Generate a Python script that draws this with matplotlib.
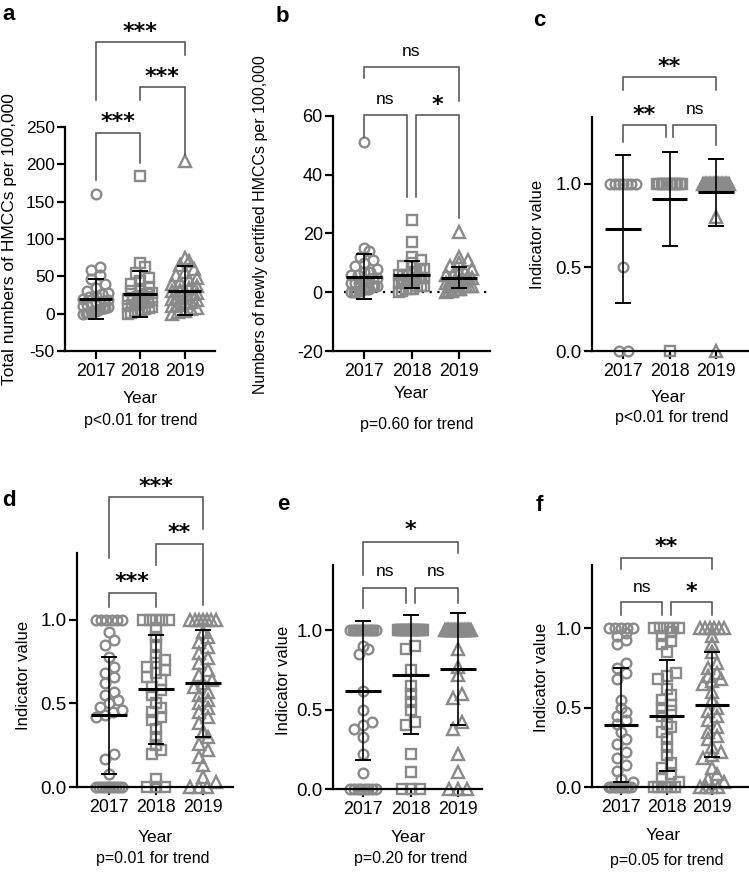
import matplotlib
matplotlib.use("Agg")
import matplotlib.pyplot as plt
import numpy as np

plt.rcParams['font.family'] = ['Liberation Sans', 'DejaVu Sans']

W, H = 749, 877
GREY = '#8a8a8a'
BRACKET = '#4d4d4d'

years = ['2017', '2018', '2019']
markers = ['o', 's', '^']

# ---- data ----
# a: total HMCCs per 100,000
a_2017 = [160, 63, 58, 52, 46, 40, 35, 31, 28, 26, 24, 22, 20, 18, 17, 15, 14, 13, 12, 10,
          9, 8, 7, 6, 5, 4, 3, 2, 1, 0.5, 0]
a_2018 = [185, 68, 62, 55, 48, 44, 40, 36, 33, 30, 28, 26, 24, 22, 21, 20, 18, 16, 15, 14,
          12, 11, 10, 9, 8, 6, 5, 4, 3, 1, 0]
a_2019 = [205, 75, 70, 65, 60, 56, 52, 48, 45, 42, 40, 37, 35, 32, 30, 28, 27, 25, 23, 21,
          20, 18, 16, 14, 12, 10, 8, 6, 4, 2, 0]
a_mean = [20, 26.8, 31]
a_sd = [26.7, 30.8, 32.3]

# b: newly certified HMCCs per 100,000
b_2017 = [51, 15, 14, 12, 11, 10, 9, 8, 7, 7, 6, 6, 5, 5, 4, 4, 4, 3, 3, 3, 2, 2, 2, 1, 1,
          1, 0.5, 0.5, 0, 0, 0]
b_2018 = [24.5, 17, 12, 11, 10, 9, 8, 8, 7, 7, 6, 6, 6, 5, 5, 5, 5, 4, 4, 4, 3, 3, 3, 2, 2,
          2, 1, 1, 1, 0.5, 0]
b_2019 = [20.5, 12, 11, 10, 9, 8, 7, 7, 6, 6, 5, 5, 5, 4, 4, 4, 4, 3, 3, 3, 3, 2, 2, 2, 2,
          1, 1, 1, 0.5, 0.5, 0]
b_mean = [5.3, 6.0, 5.0]
b_sd = [7.6, 4.5, 3.5]

# c
c_2017 = [1, 1, 1, 1, 1, 1, 1, 0.5, 0, 0]
c_2018 = [1, 1, 1, 1, 1, 1, 1, 1, 1, 1, 1, 0]
c_2019 = [1, 1, 1, 1, 1, 1, 1, 1, 1, 1, 1, 1, 1, 1, 1, 1, 1, 1, 1, 1, 0.8, 0]
c_mean = [0.73, 0.91, 0.95]
c_sd = [0.44, 0.28, 0.20]

# d
d_2017 = [1, 1, 1, 1, 1, 1, 0.93, 0.88, 0.85, 0.78, 0.72, 0.68, 0.66, 0.62, 0.57, 0.55,
          0.52, 0.5, 0.48, 0.46, 0.45, 0.43, 0.42, 0.2, 0.17, 0.08,
          0, 0, 0, 0, 0, 0, 0, 0, 0, 0]
d_2018 = [1, 1, 1, 1, 1, 0.95, 0.9, 0.85, 0.78, 0.76, 0.74, 0.72, 0.7, 0.68, 0.66, 0.64,
          0.6, 0.58, 0.55, 0.5, 0.47, 0.45, 0.42, 0.4, 0.35, 0.3, 0.25, 0.22, 0.2, 0.05,
          0, 0, 0]
d_2019 = [1, 1, 1, 1, 1, 1, 1, 0.93, 0.9, 0.87, 0.84, 0.8, 0.77, 0.74, 0.7, 0.67, 0.64,
          0.62, 0.6, 0.57, 0.55, 0.52, 0.5, 0.47, 0.45, 0.42, 0.38, 0.33, 0.3, 0.26, 0.22,
          0.18, 0.13, 0.06, 0.03, 0, 0, 0]
d_mean = [0.43, 0.585, 0.62]
d_sd = [0.35, 0.325, 0.32]

# e
e_2017 = [1, 1, 1, 1, 1, 1, 1, 1, 1, 1, 1, 1, 0.9, 0.88, 0.85, 0.62, 0.5, 0.42, 0.4, 0.38,
          0.33, 0.22, 0.1, 0, 0, 0, 0, 0, 0, 0, 0]
e_2018 = [1, 1, 1, 1, 1, 1, 1, 1, 1, 1, 1, 1, 1, 1, 1, 1, 1, 0.9, 0.88, 0.75, 0.65, 0.6,
          0.55, 0.5, 0.42, 0.4, 0.22, 0.11, 0, 0, 0]
e_2019 = [1, 1, 1, 1, 1, 1, 1, 1, 1, 1, 1, 1, 1, 1, 1, 1, 1, 1, 1, 0.88, 0.77, 0.72, 0.6,
          0.57, 0.42, 0.38, 0.22, 0.11, 0, 0, 0]
e_mean = [0.62, 0.72, 0.755]
e_sd = [0.435, 0.375, 0.35]

# f
f_2017 = [1, 1, 1, 1, 1, 0.97, 0.95, 0.93, 0.9, 0.78, 0.75, 0.72, 0.68, 0.55, 0.5, 0.47,
          0.45, 0.42, 0.4, 0.35, 0.3, 0.27, 0.22, 0.18, 0.14, 0.1, 0.05, 0.03,
          0, 0, 0, 0, 0, 0, 0, 0, 0, 0]
f_2018 = [1, 1, 1, 1, 1, 0.98, 0.95, 0.92, 0.9, 0.85, 0.72, 0.7, 0.68, 0.62, 0.58, 0.55,
          0.52, 0.5, 0.48, 0.45, 0.4, 0.38, 0.35, 0.3, 0.25, 0.2, 0.15, 0.12, 0.08, 0.05,
          0.03, 0, 0, 0, 0, 0, 0]
f_2019 = [1, 1, 1, 1, 1, 1, 0.95, 0.9, 0.85, 0.78, 0.75, 0.72, 0.7, 0.68, 0.67, 0.65, 0.6,
          0.55, 0.5, 0.48, 0.45, 0.42, 0.38, 0.35, 0.32, 0.3, 0.25, 0.22, 0.2, 0.18, 0.12,
          0.08, 0.05, 0.03, 0, 0, 0, 0]
f_mean = [0.39, 0.45, 0.52]
f_sd = [0.36, 0.35, 0.33]

ylabels = ['Total numbers of HMCCs per 100,000',
           'Numbers of newly certified HMCCs per 100,000',
           'Indicator value', 'Indicator value', 'Indicator value', 'Indicator value']
trend_labels = ['p<0.01 for trend', 'p=0.60 for trend', 'p<0.01 for trend',
                'p=0.01 for trend', 'p=0.20 for trend', 'p=0.05 for trend']
sig_labels = [['***', '***', '***'], ['ns', '*', 'ns'], ['**', 'ns', '**'],
              ['***', '**', '***'], ['ns', 'ns', '*'], ['ns', '*', '**']]

# ---- layout (pixels in the 749x877 figure) ----
panels = [
    dict(name='a', groups=[a_2017, a_2018, a_2019], mean=a_mean, sd=a_sd,
         box=(65, 127, 215, 351), x0=95.5, dx=44.5, ylim=(-50, 250),
         yticks=[-50, 0, 50, 100, 150, 200, 250], fmt='{:g}', ytsize=12.5,
         letter=(2, 15), ylab=(10, 239, 12.5), year=(140, 398), trend=(141, 421),
         gap=0.0,
         br=[(133, 180, 163, 117), (87, 100, 155, 72), (42, 100, 55, 27)]),
    dict(name='b', groups=[b_2017, b_2018, b_2019], mean=b_mean, sd=b_sd,
         box=(333, 116, 490, 351), x0=364, dx=47.5, ylim=(-20, 60),
         yticks=[-20, 0, 20, 40, 60], fmt='{:g}', ytsize=13,
         letter=(276, 17), ylab=(261, 225, 11.5), year=(411, 393), trend=(417, 425),
         gap=0.1, zero=True,
         br=[(115, 137, 197, 100), (115, 197, 218, 100), (67, 78, 101, 52)]),
    dict(name='c', groups=[c_2017, c_2018, c_2019], mean=c_mean, sd=c_sd,
         box=(592, 117, 748, 351), x0=623, dx=46.5, ylim=(0, 1.4),
         yticks=[0, 0.5, 1.0], fmt='{:.1f}', ytsize=13.5,
         letter=(533, 20), ylab=(538, 234, 12), year=(668, 397), trend=(672, 417),
         gap=0.08,
         br=[(125, 142, 137, 110), (125, 137, 145, 110), (77, 90, 90, 62)]),
    dict(name='d', groups=[d_2017, d_2018, d_2019], mean=d_mean, sd=d_sd,
         box=(77, 553, 233, 787), x0=109, dx=47, ylim=(0, 1.40),
         yticks=[0, 0.5, 1.0], fmt='{:.1f}', ytsize=13.5,
         letter=(2, 501), ylab=(24, 675, 12), year=(155, 837), trend=(153, 858),
         gap=0.0,
         br=[(593, 607, 607, 577), (544, 565, 605, 528), (497, 558, 529, 482)]),
    dict(name='e', groups=[e_2017, e_2018, e_2019], mean=e_mean, sd=e_sd,
         box=(333, 565, 482, 789), x0=363, dx=47.5, ylim=(0, 1.41),
         yticks=[0, 0.5, 1.0], fmt='{:.1f}', ytsize=13.5,
         letter=(277, 505), ylab=(283, 680, 12), year=(408, 837), trend=(411, 858),
         gap=0.09,
         br=[(588, 608, 603, 571), (588, 603, 603, 571), (542, 575, 553, 525)]),
    dict(name='f', groups=[f_2017, f_2018, f_2019], mean=f_mean, sd=f_sd,
         box=(592, 565, 749, 787), x0=621, dx=45.5, ylim=(0, 1.40),
         yticks=[0, 0.5, 1.0], fmt='{:.1f}', ytsize=13.5,
         letter=(536, 506), ylab=(542, 677, 12), year=(663, 835), trend=(667, 860),
         gap=0.09,
         br=[(602, 615, 615, 587), (602, 615, 615, 587), (558, 569, 569, 542)]),
]


def swarm_offsets(vals, y_px, x_px, diam=9.0, max_half=0.27):
    """Spread points that would overlap into rows (GraphPad style)."""
    vals = np.asarray(vals, float)
    order = np.argsort(vals, kind='stable')
    offs = np.zeros(len(vals))
    step = diam / x_px
    i = 0
    while i < len(order):
        j = i
        while j + 1 < len(order) and (vals[order[j + 1]] - vals[order[i]]) * y_px < diam * 0.8:
            j += 1
        grp = order[i:j + 1]
        k = len(grp)
        s = step
        if k > 1 and (k - 1) * s / 2 > max_half:
            s = 2 * max_half / (k - 1)
        offs[grp] = (np.arange(k) - (k - 1) / 2) * s
        i = j + 1
    return offs


fig = plt.figure(figsize=(W / 100, H / 100), dpi=100)

for n, p in enumerate(panels):
    l, t, r, b = p['box']
    ax = fig.add_axes([l / W, 1 - b / H, (r - l) / W, (b - t) / H])
    xmin = (l - p['x0']) / p['dx']
    xmax = (r - p['x0']) / p['dx']
    y0, y1 = p['ylim']
    ax.set_xlim(xmin, xmax)
    ax.set_ylim(y0, y1)
    y_px = (b - t) / (y1 - y0)

    def ydata(px):
        return y0 + (b - px) / y_px

    if p.get('zero'):
        ax.axhline(0, xmin=0.07, color='black', lw=1.6, ls=(0, (1, 2.5)), zorder=1)

    for i, vals in enumerate(p['groups']):
        offs = swarm_offsets(vals, y_px, p['dx'])
        ms = 8 if markers[i] == '^' else 7
        ax.plot(i + offs, vals, ls='none', marker=markers[i], ms=ms, mfc='none',
                mec=GREY, mew=1.7, clip_on=False, zorder=2)
        ax.errorbar(i, p['mean'][i], yerr=p['sd'][i], fmt='none', ecolor='black',
                    elinewidth=1.2, capsize=5.5, capthick=1.4, zorder=3, clip_on=False)
        ax.hlines(p['mean'][i], i - 0.38, i + 0.38, color='black', lw=2.2, zorder=4)

    # significance brackets: (0,1), (1,2), (0,2)
    g = p['gap']
    pairs = [(0, 1 - g), (1 + g, 2), (0, 2)]
    for (xa, xb), (yb, la, lb, ty), lab in zip(pairs, p['br'], sig_labels[n]):
        ax.plot([xa, xa, xb, xb], [ydata(la), ydata(yb), ydata(yb), ydata(lb)],
                color=BRACKET, lw=1.1, clip_on=False, solid_joinstyle='miter')
        if '*' in lab:
            ax.text((xa + xb) / 2, ydata(ty + 5), lab, ha='center', va='center',
                    fontsize=16, fontweight='bold', family='DejaVu Sans', clip_on=False)
        else:
            ax.text((xa + xb) / 2, ydata(ty), lab, ha='center', va='center', fontsize=12.5,
                    clip_on=False)

    ax.set_xticks([0, 1, 2])
    ax.set_xticklabels(years)
    ax.set_yticks(p['yticks'])
    ax.set_yticklabels([p['fmt'].format(v) for v in p['yticks']])
    ax.tick_params(axis='both', length=5.8, width=1.6, direction='out')
    ax.tick_params(axis='x', pad=3, labelsize=12.8)
    ax.tick_params(axis='y', pad=1.5, labelsize=p['ytsize'])
    for side in ['top', 'right']:
        ax.spines[side].set_visible(False)
    for side in ['left', 'bottom']:
        ax.spines[side].set_linewidth(1.6)
    ax.patch.set_alpha(0)

    lx, ly = p['letter']
    fig.text(lx / W, 1 - ly / H, p['name'], fontsize=16, fontweight='bold',
             ha='left', va='center')
    yx, yy, yfs = p['ylab']
    fig.text(yx / W, 1 - yy / H, ylabels[n], rotation=90, fontsize=yfs,
             ha='center', va='center')
    fig.text(p['year'][0] / W, 1 - p['year'][1] / H, 'Year', fontsize=12.5,
             ha='center', va='center')
    fig.text(p['trend'][0] / W, 1 - p['trend'][1] / H, trend_labels[n],
             fontsize=11.5, ha='center', va='center')

fig.savefig('out.png', dpi=100)
